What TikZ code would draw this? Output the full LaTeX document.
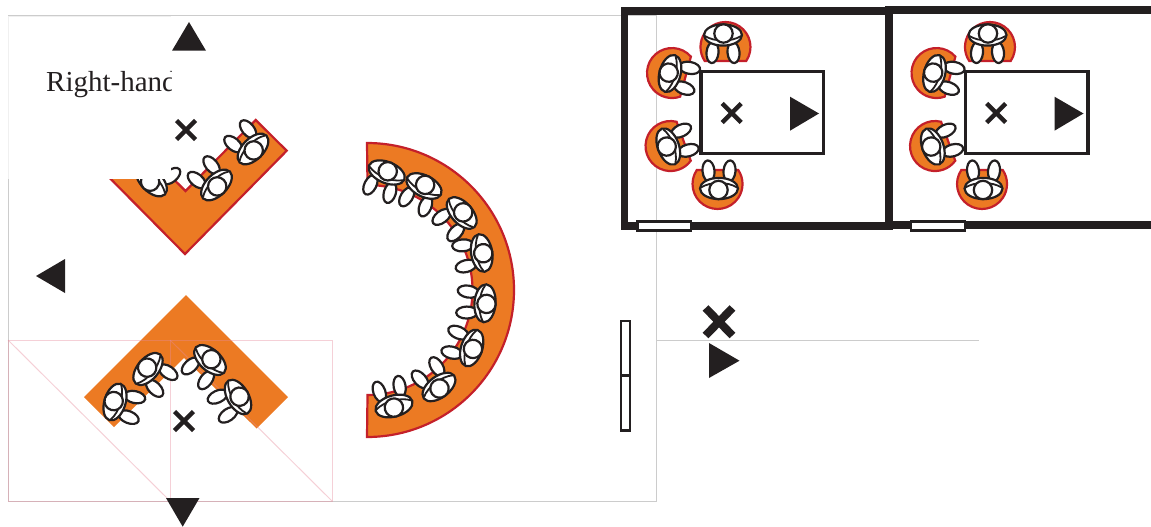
\documentclass[tikz,border=0pt]{standalone}
\usepackage{fontspec}
\setmainfont{Liberation Serif}
\usetikzlibrary{calc}
\definecolor{corange}{HTML}{EC7A23}
\definecolor{cred}{HTML}{C4202A}
\definecolor{cink}{HTML}{231F20}
\definecolor{cframe}{HTML}{CCCCCC}
\definecolor{cguide}{HTML}{E58A9A}
\tikzset{
  frameln/.style={draw=cframe, line width=1pt},
  guideln/.style={draw=cguide, line width=1pt, opacity=0.4},
  seatfl/.style={fill=corange, draw=cred, line width=2.2pt, line join=miter},
  facing/.style={fill=cink},
  wall/.style={draw=cink, line width=7.6pt, line join=miter},
  tablebx/.style={draw=cink, line width=3.4pt},
  doorbx/.style={draw=cink, fill=white, line width=2.4pt},
  person/.style={draw=cink, fill=white, line width=2.2pt},
  sitter/.pic={
    \draw[person, rotate around={-5:(-10.5,17.5)}] (-10.5,17.5) ellipse [x radius=6pt, y radius=10.6pt];
    \draw[person, rotate around={5:(10.5,17.5)}] (10.5,17.5) ellipse [x radius=6pt, y radius=10.6pt];
    \draw[person] (0,0) ellipse [x radius=19pt, y radius=10.6pt];
    \draw[draw=cink, line width=1.8pt] (-18,1) .. controls (-9,7) and (9,7) .. (18,1);
    \draw[person] (0.5,-1.5) circle [radius=9.2pt];
  },
  seatcap/.pic={
    \path[seatfl] (20.7,14) arc (-34:214:25pt) -- cycle;
  },
  xsign/.pic={
    \draw[draw=cink, line width=4.4pt] (-9.5,-9.5) -- (9.5,9.5) (-9.5,9.5) -- (9.5,-9.5);
  },
  roomset/.pic={
    \pic[rotate=0] at (725.5,47) {seatcap};
    \pic[rotate=75] at (672,73) {seatcap};
    \pic[rotate=110] at (670.5,146) {seatcap};
    \pic[rotate=180] at (717.5,184) {seatcap};
    \draw[tablebx] (701,71.5) rectangle (823.5,153.5);
    \pic at (731.7,113) {xsign};
    \path[facing] (790,96.7) -- (819,113.5) -- (790,130.7) -- cycle;
    \pic[rotate=0] at (723,35) {sitter};
    \pic[rotate=75] at (670,73.5) {sitter};
    \pic[rotate=110] at (668.3,146.5) {sitter};
    \pic[rotate=180] at (719,188.5) {sitter};
  }
}

\begin{document}
\begin{tikzpicture}[x=1pt, y=-1pt]
\useasboundingbox (0,0) rectangle (1151,527);

% sheet outline
\draw[frameln] (8,16) rectangle (656,501);
\draw[frameln] (656,340) -- (979,340);

% upper seating
\path[seatfl] (185,254) -- (286.7,150.7) -- (255.7,120) -- (185.5,191) -- (115,121) -- (83,151) -- cycle;
\pic[rotate=-135] at (253,149) {sitter};
\pic[rotate=-135] at (216.5,185) {sitter};
\pic[rotate=135] at (151.5,181) {sitter};

% patch over the corner
\fill[white] (8,16) rectangle (171,179);
\draw[draw=black!6, line width=0.8pt] (8,179) -- (8,16) -- (171,16);
\begin{scope}
\clip (8,16) rectangle (171,179);
\node[anchor=base west, inner sep=0pt, font=\fontsize{29}{32}\selectfont, text=cink] (title) at (46,91.8) {Right-hand};
\end{scope}

% lower seating
\fill[corange] (186,295) -- (288,397) -- (256.7,428.5) -- (184,358) -- (114,427) -- (84,397) -- cycle;
\draw[guideln] (8,340) rectangle (332,501);
\draw[guideln] (170,340) -- (170,501);
\draw[guideln] (8,340) -- (170,501);
\draw[guideln] (170,340) -- (332,501);
\pic[rotate=73] at (115,402) {sitter};
\pic[rotate=50] at (148,369) {sitter};
\pic[rotate=-42] at (210,360) {sitter};
\pic[rotate=-60] at (238,397) {sitter};

% arc of seats
\path[seatfl] (367,143) arc (90:-90:147pt) -- (367.5,395) arc (-90:90:105pt) -- cycle;
\pic[rotate=-22] at (386.7,172.5) {sitter};
\pic[rotate=-27] at (424,186) {sitter};
\pic[rotate=-48] at (461.7,213) {sitter};
\pic[rotate=-81] at (481.7,253) {sitter};
\pic[rotate=-94] at (485,303.3) {sitter};
\pic[rotate=-108] at (471.7,348) {sitter};
\pic[rotate=-143] at (439,387) {sitter};
\pic[rotate=-165] at (394,406) {sitter};

% facing marks
\path[facing] (189,22) -- (206,50.7) -- (172,50.7) -- cycle;
\path[facing] (36,276) -- (65,259) -- (65,293) -- cycle;
\path[facing] (166,498) -- (199.5,498) -- (182.7,526.7) -- cycle;
\path[facing] (709,343) -- (739.5,360.7) -- (709,378) -- cycle;
\pic at (186,130) {xsign};
\pic at (184,421) {xsign};
\draw[draw=cink, line width=8pt] (705.5,308) -- (732.5,335.5) (705.5,335.5) -- (732.5,308);

% side door
\draw[doorbx] (621,321) rectangle (630,375.5);
\draw[doorbx] (621,375.5) rectangle (630,430.5);

% rooms
\draw[wall] (624.5,11) rectangle (889.5,226);
\draw[wall] (889,10) rectangle (1160,225);
\draw[doorbx] (637.5,221.5) rectangle (691,230.5);
\draw[doorbx] (911,221.5) rectangle (965,230.5);
\pic at (0,0) {roomset};
\pic at (264.5,0) {roomset};

\end{tikzpicture}
\end{document}
